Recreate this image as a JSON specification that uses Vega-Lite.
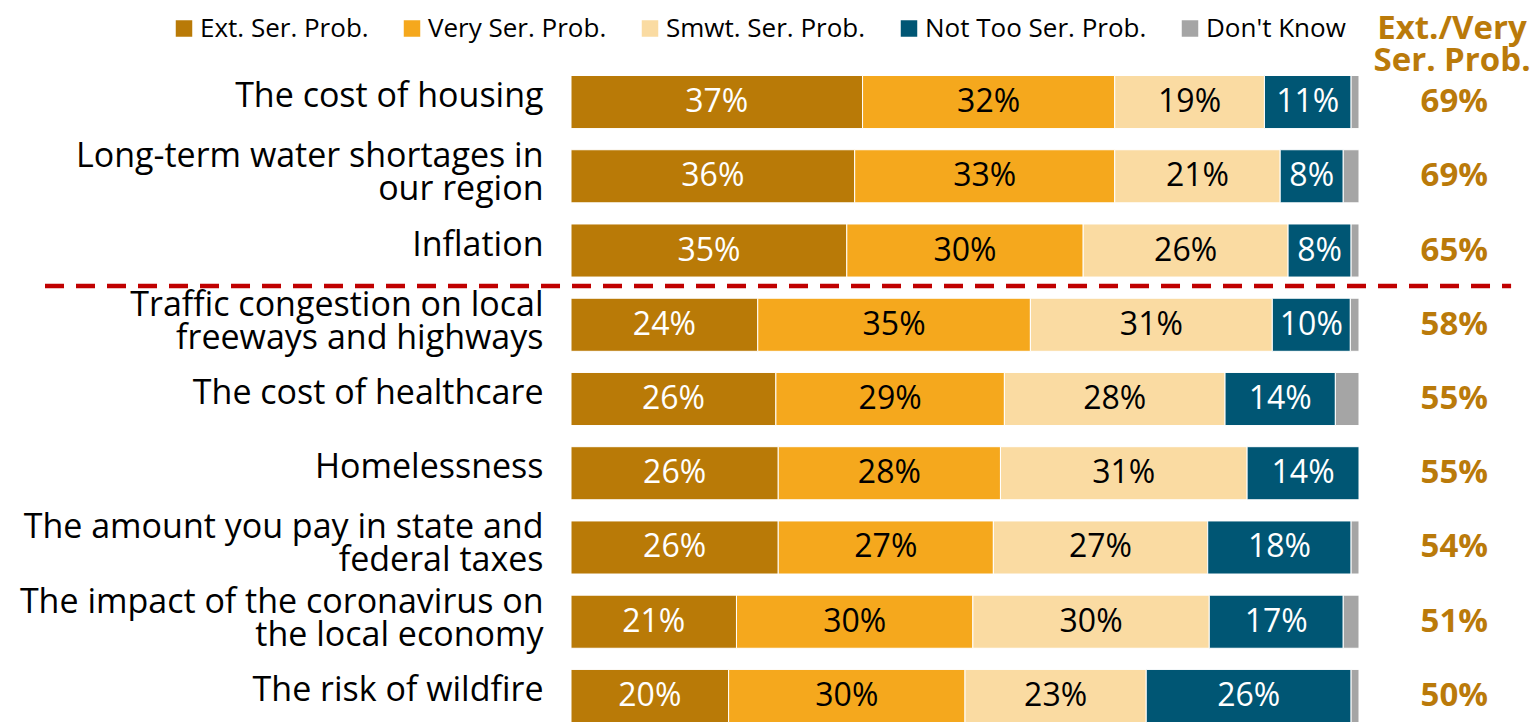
{
  "$schema": "https://vega.github.io/schema/vega-lite/v6.json",
  "width": 788,
  "height": 647,
  "autosize": "none",
  "padding": {"left": 571, "top": 75.5, "right": 180, "bottom": 0.5},
  "background": "white",
  "config": {"view": {"stroke": null}, "font": "Open Sans"},
  "title": {
    "text": ["Ext./Very", "Ser. Prob."],
    "frame": "group",
    "anchor": "end",
    "align": "center",
    "baseline": "bottom",
    "dx": 93,
    "dy": 95,
    "offset": 0,
    "fontSize": 33,
    "fontWeight": "bold",
    "color": "#BA7A0A",
    "lineHeight": 32,
    "font": "Open Sans"
  },
  "datasets": {
    "resp": [
      {"item": "The cost of housing", "resp": "Ext. Ser. Prob.", "lvl": 1, "pct": 0.37},
      {"item": "The cost of housing", "resp": "Very Ser. Prob.", "lvl": 2, "pct": 0.32},
      {"item": "The cost of housing", "resp": "Smwt. Ser. Prob.", "lvl": 3, "pct": 0.19},
      {"item": "The cost of housing", "resp": "Not Too Ser. Prob.", "lvl": 4, "pct": 0.11},
      {"item": "The cost of housing", "resp": "Don't Know", "lvl": 5, "pct": 0.01},
      {"item": "Long-term water shortages in\nour region", "resp": "Ext. Ser. Prob.", "lvl": 1, "pct": 0.36},
      {"item": "Long-term water shortages in\nour region", "resp": "Very Ser. Prob.", "lvl": 2, "pct": 0.33},
      {"item": "Long-term water shortages in\nour region", "resp": "Smwt. Ser. Prob.", "lvl": 3, "pct": 0.21},
      {"item": "Long-term water shortages in\nour region", "resp": "Not Too Ser. Prob.", "lvl": 4, "pct": 0.08},
      {"item": "Long-term water shortages in\nour region", "resp": "Don't Know", "lvl": 5, "pct": 0.02},
      {"item": "Inflation", "resp": "Ext. Ser. Prob.", "lvl": 1, "pct": 0.35},
      {"item": "Inflation", "resp": "Very Ser. Prob.", "lvl": 2, "pct": 0.30},
      {"item": "Inflation", "resp": "Smwt. Ser. Prob.", "lvl": 3, "pct": 0.26},
      {"item": "Inflation", "resp": "Not Too Ser. Prob.", "lvl": 4, "pct": 0.08},
      {"item": "Inflation", "resp": "Don't Know", "lvl": 5, "pct": 0.01},
      {"item": "Traffic congestion on local\nfreeways and highways", "resp": "Ext. Ser. Prob.", "lvl": 1, "pct": 0.237},
      {"item": "Traffic congestion on local\nfreeways and highways", "resp": "Very Ser. Prob.", "lvl": 2, "pct": 0.346},
      {"item": "Traffic congestion on local\nfreeways and highways", "resp": "Smwt. Ser. Prob.", "lvl": 3, "pct": 0.307},
      {"item": "Traffic congestion on local\nfreeways and highways", "resp": "Not Too Ser. Prob.", "lvl": 4, "pct": 0.099},
      {"item": "Traffic congestion on local\nfreeways and highways", "resp": "Don't Know", "lvl": 5, "pct": 0.011},
      {"item": "The cost of healthcare", "resp": "Ext. Ser. Prob.", "lvl": 1, "pct": 0.26},
      {"item": "The cost of healthcare", "resp": "Very Ser. Prob.", "lvl": 2, "pct": 0.29},
      {"item": "The cost of healthcare", "resp": "Smwt. Ser. Prob.", "lvl": 3, "pct": 0.28},
      {"item": "The cost of healthcare", "resp": "Not Too Ser. Prob.", "lvl": 4, "pct": 0.14},
      {"item": "The cost of healthcare", "resp": "Don't Know", "lvl": 5, "pct": 0.03},
      {"item": "Homelessness", "resp": "Ext. Ser. Prob.", "lvl": 1, "pct": 0.263},
      {"item": "Homelessness", "resp": "Very Ser. Prob.", "lvl": 2, "pct": 0.282},
      {"item": "Homelessness", "resp": "Smwt. Ser. Prob.", "lvl": 3, "pct": 0.313},
      {"item": "Homelessness", "resp": "Not Too Ser. Prob.", "lvl": 4, "pct": 0.142},
      {"item": "The amount you pay in state and\nfederal taxes", "resp": "Ext. Ser. Prob.", "lvl": 1, "pct": 0.263},
      {"item": "The amount you pay in state and\nfederal taxes", "resp": "Very Ser. Prob.", "lvl": 2, "pct": 0.273},
      {"item": "The amount you pay in state and\nfederal taxes", "resp": "Smwt. Ser. Prob.", "lvl": 3, "pct": 0.272},
      {"item": "The amount you pay in state and\nfederal taxes", "resp": "Not Too Ser. Prob.", "lvl": 4, "pct": 0.182},
      {"item": "The amount you pay in state and\nfederal taxes", "resp": "Don't Know", "lvl": 5, "pct": 0.01},
      {"item": "The impact of the coronavirus on\nthe local economy", "resp": "Ext. Ser. Prob.", "lvl": 1, "pct": 0.21},
      {"item": "The impact of the coronavirus on\nthe local economy", "resp": "Very Ser. Prob.", "lvl": 2, "pct": 0.30},
      {"item": "The impact of the coronavirus on\nthe local economy", "resp": "Smwt. Ser. Prob.", "lvl": 3, "pct": 0.30},
      {"item": "The impact of the coronavirus on\nthe local economy", "resp": "Not Too Ser. Prob.", "lvl": 4, "pct": 0.17},
      {"item": "The impact of the coronavirus on\nthe local economy", "resp": "Don't Know", "lvl": 5, "pct": 0.02},
      {"item": "The risk of wildfire", "resp": "Ext. Ser. Prob.", "lvl": 1, "pct": 0.20},
      {"item": "The risk of wildfire", "resp": "Very Ser. Prob.", "lvl": 2, "pct": 0.30},
      {"item": "The risk of wildfire", "resp": "Smwt. Ser. Prob.", "lvl": 3, "pct": 0.23},
      {"item": "The risk of wildfire", "resp": "Not Too Ser. Prob.", "lvl": 4, "pct": 0.26},
      {"item": "The risk of wildfire", "resp": "Don't Know", "lvl": 5, "pct": 0.01}
    ],
    "totals": [
      {"item": "The cost of housing", "total": 0.69},
      {"item": "Long-term water shortages in\nour region", "total": 0.69},
      {"item": "Inflation", "total": 0.65},
      {"item": "Traffic congestion on local\nfreeways and highways", "total": 0.58},
      {"item": "The cost of healthcare", "total": 0.55},
      {"item": "Homelessness", "total": 0.55},
      {"item": "The amount you pay in state and\nfederal taxes", "total": 0.54},
      {"item": "The impact of the coronavirus on\nthe local economy", "total": 0.51},
      {"item": "The risk of wildfire", "total": 0.50}
    ]
  },
  "encoding": {
    "y": {
      "field": "item",
      "type": "nominal",
      "sort": null,
      "scale": {
        "domain": [
          "The cost of housing",
          "Long-term water shortages in\nour region",
          "Inflation",
          "Traffic congestion on local\nfreeways and highways",
          "The cost of healthcare",
          "Homelessness",
          "The amount you pay in state and\nfederal taxes",
          "The impact of the coronavirus on\nthe local economy",
          "The risk of wildfire"
        ],
        "paddingInner": 0.285,
        "paddingOuter": 0
      },
      "axis": {
        "title": null,
        "domain": false,
        "ticks": false,
        "tickSize": 0,
        "labelFont": "Open Sans",
        "labelFontSize": 34,
        "labelColor": "#000000",
        "labelPadding": 28,
        "labelLimit": 1000,
        "labelLineHeight": 33,
        "labelOffset": {"condition": {"test": "indexof(datum.value, '\\n') >= 0", "value": -19}, "value": -5},
        "labelExpr": "split(datum.label, '\\n')"
      }
    }
  },
  "layer": [
    {
      "data": {"name": "resp"},
      "mark": {"type": "bar", "stroke": "#FFFFFF", "strokeWidth": 1},
      "encoding": {
        "x": {"field": "pct", "type": "quantitative", "stack": "zero", "scale": {"domain": [0, 1], "nice": false, "zero": true}, "axis": null},
        "color": {
          "field": "resp",
          "type": "nominal",
          "scale": {
            "domain": ["Ext. Ser. Prob.", "Very Ser. Prob.", "Smwt. Ser. Prob.", "Not Too Ser. Prob.", "Don't Know"],
            "range": ["#B97A07", "#F5A81D", "#FADBA2", "#005674", "#A5A5A5"]
          },
          "legend": {
            "title": null,
            "orient": "none",
            "legendX": -400,
            "legendY": -60,
            "direction": "horizontal",
            "symbolType": "square",
            "symbolSize": 272,
            "symbolStrokeWidth": 0,
            "labelFont": "Open Sans",
            "labelFontSize": 26,
            "labelColor": "#000000",
            "labelOffset": 3,
            "labelLimit": 1000,
            "columnPadding": 30
          }
        },
        "order": {"field": "lvl", "type": "quantitative"}
      }
    },
    {
      "data": {"name": "resp"},
      "transform": [{"filter": "datum.lvl < 5"}],
      "mark": {"type": "text", "font": "Open Sans", "fontSize": 32, "baseline": "middle", "align": "center"},
      "encoding": {
        "x": {"field": "pct", "type": "quantitative", "stack": "zero", "bandPosition": 0.5},
        "detail": {"field": "resp", "type": "nominal"},
        "order": {"field": "lvl", "type": "quantitative"},
        "text": {"field": "pct", "type": "quantitative", "format": ".0%"},
        "color": {
          "condition": {"test": "datum.lvl == 1 || datum.lvl == 4", "value": "#FFFFFF"},
          "value": "#000000"
        }
      }
    },
    {
      "data": {"name": "totals"},
      "mark": {"type": "text", "font": "Open Sans", "fontSize": 33, "fontWeight": "bold", "color": "#BA7A0A", "baseline": "middle", "align": "center"},
      "encoding": {
        "x": {"datum": 1.121, "type": "quantitative"},
        "text": {"field": "total", "type": "quantitative", "format": ".0%"}
      }
    },
    {
      "data": {"name": "totals"},
      "transform": [{"filter": "datum.item == 'Inflation'"}],
      "mark": {"type": "rule", "color": "#C00000", "strokeWidth": 4.5, "strokeDash": [19, 12], "yOffset": 35.5},
      "encoding": {
        "x": {"datum": -0.6675, "type": "quantitative"},
        "x2": {"datum": 1.193}
      }
    }
  ]
}
